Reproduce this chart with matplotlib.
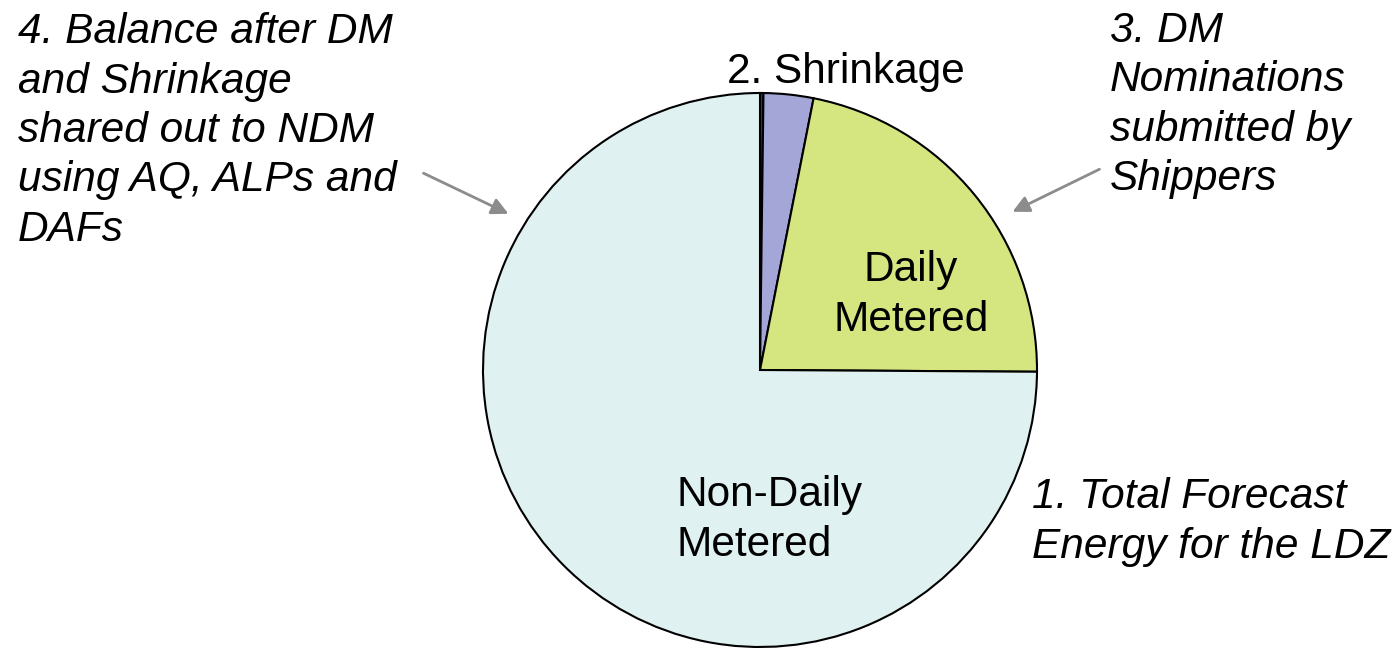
import matplotlib
matplotlib.use('Agg')
import matplotlib.pyplot as plt

# ── Data ──────────────────────────────────────────────────────
SEGMENTS = ['Other', 'Shrinkage', 'Daily Metered', 'Non-Daily Metered']
SHARES   = [0.2, 2.9, 22.0, 74.9]
COLORS   = ['#2e3880', '#a3a6d6', '#d5e681', '#dff1f1']

FONT = 'Liberation Sans'
FS = 30.5
LS = 1.3
GREY = '#8c8c8c'

W, H = 1396, 648
fig = plt.figure(figsize=(W / 100, H / 100), dpi=100)
ax = fig.add_axes([0, 0, 1, 1])

# pixel-like coordinates, y measured from the bottom
cx, cy, r = 760, H - 370, 277
ax.pie(SHARES, colors=COLORS, startangle=90, counterclock=False,
       center=(cx, cy), radius=r,
       wedgeprops=dict(edgecolor='black', linewidth=1.5))
ax.set_xlim(0, W)
ax.set_ylim(0, H)
ax.set_aspect('equal')
ax.axis('off')

# labels inside the pie
ax.text(911, H - 295, 'Daily\nMetered', ha='center', va='center',
        fontsize=FS, family=FONT, linespacing=LS)
ax.text(677, H - 520, 'Non-Daily\nMetered', ha='left', va='center',
        fontsize=FS, family=FONT, linespacing=LS)
ax.text(727, H - 72, '2. Shrinkage', ha='left', va='center',
        fontsize=FS, family=FONT)

# italic notes
ax.text(18, H - 131, '4. Balance after DM\nand Shrinkage\nshared out to NDM\nusing AQ, ALPs and\nDAFs',
        ha='left', va='center', fontsize=FS, family=FONT, style='italic', linespacing=LS)
ax.text(1110, H - 105, '3. DM\nNominations\nsubmitted by\nShippers',
        ha='left', va='center', fontsize=FS, family=FONT, style='italic', linespacing=LS)
ax.text(1032, H - 522, '1. Total Forecast\nEnergy for the LDZ',
        ha='left', va='center', fontsize=FS, family=FONT, style='italic', linespacing=LS)

# arrows
arrow = dict(arrowstyle='-|>', color=GREY, lw=2, mutation_scale=25)
ax.annotate('', xy=(511, H - 215), xytext=(421, H - 172), arrowprops=arrow)
ax.annotate('', xy=(1010, H - 213), xytext=(1102, H - 168), arrowprops=arrow)

fig.savefig('out.png', dpi=100, facecolor='white')
